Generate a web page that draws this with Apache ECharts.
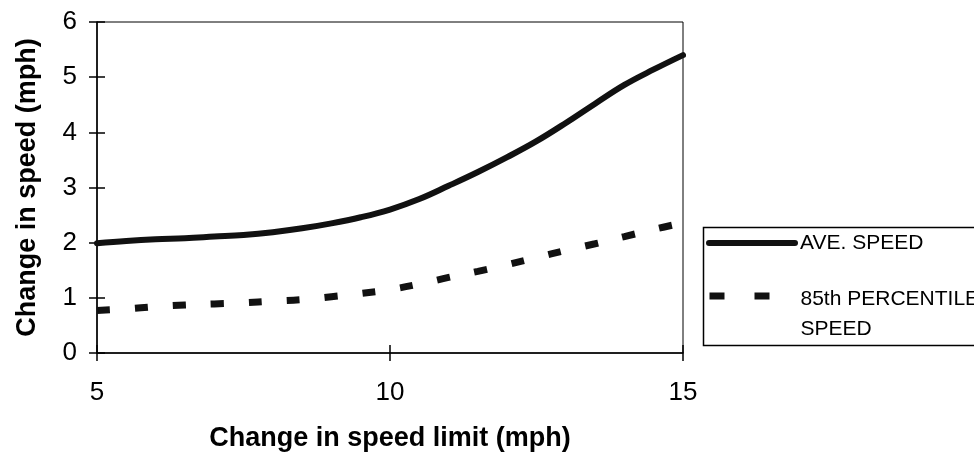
<!DOCTYPE html>
<html>
<head>
<meta charset="utf-8">
<script src="https://cdn.jsdelivr.net/npm/echarts@6/dist/echarts.min.js"></script>
<style>
html,body{margin:0;padding:0;background:#fff;}
#chart{width:974px;height:453px;}
</style>
</head>
<body>
<div id="chart"></div>
<script>
// ---- data ----
const speedLimitChange = [5, 5.5, 6, 6.5, 7, 7.5, 8, 8.5, 9, 9.5, 10, 10.5, 11, 11.5, 12, 12.5, 13, 13.5, 14, 14.5, 15];
const aveSpeed = [1.99, 2.03, 2.06, 2.08, 2.11, 2.14, 2.19, 2.26, 2.35, 2.46, 2.6, 2.79, 3.03, 3.28, 3.55, 3.84, 4.17, 4.52, 4.86, 5.14, 5.4];
const pct85Speed = [0.77, 0.80, 0.84, 0.87, 0.89, 0.91, 0.94, 0.97, 1.02, 1.08, 1.15, 1.25, 1.37, 1.48, 1.6, 1.73, 1.86, 1.98, 2.11, 2.24, 2.36];
const seriesNames = ['AVE. SPEED', '85th PERCENTILE SPEED'];
const legendLabels = ['AVE. SPEED', ['85th PERCENTILE', 'SPEED']];
const xTitle = 'Change in speed limit (mph)';
const yTitle = 'Change in speed (mph)';

const FONT = '"Liberation Sans", Arial, sans-serif';
const chart = echarts.init(document.getElementById('chart'), null, {renderer: 'canvas'});

const gridBox = {left: 97, right: 291, top: 22, bottom: 100, containLabel: false, outerBoundsMode: 'none'};

chart.setOption({
  backgroundColor: '#fff',
  animation: false,
  grid: [
    Object.assign({show: true, borderColor: '#000', borderWidth: 1, backgroundColor: 'transparent'}, gridBox),
    Object.assign({show: false}, gridBox)
  ],
  legend: [
    {
      data: [{name: seriesNames[0], itemStyle: {opacity: 0}, lineStyle: {type: 'solid', width: 6, cap: 'round', color: '#111'}}],
      left: 701, top: 226,
      orient: 'vertical',
      itemWidth: 86, itemHeight: 14,
      formatter: () => legendLabels[0],
      textStyle: {fontFamily: FONT, fontSize: 21, color: '#000', lineHeight: 24}
    },
    {
      data: [{name: seriesNames[1], itemStyle: {opacity: 0}, lineStyle: {type: [15, 30], width: 7, cap: 'butt', color: '#111'}}],
      left: 701, top: 243,
      orient: 'vertical',
      itemWidth: 86, itemHeight: 14,
      formatter: () => '{gap|}\n' + legendLabels[1].join('\n'),
      textStyle: {
        fontFamily: FONT, fontSize: 21, color: '#000', lineHeight: 30,
        rich: {gap: {height: 36, lineHeight: 36, fontSize: 21}}
      }
    }
  ],
  graphic: [
    {type: 'rect', left: 701, top: 225, shape: {width: 320, height: 118}, style: {fill: 'none', stroke: '#000', lineWidth: 1.5}, z: 0}
  ],
  xAxis: [
    {
      type: 'value', gridIndex: 0, min: 5, max: 15, interval: 5,
      name: xTitle, nameLocation: 'middle', nameGap: 72,
      nameTextStyle: {fontFamily: FONT, fontSize: 27, fontWeight: 'bold', color: '#000'},
      axisLine: {show: true, onZero: false, lineStyle: {color: '#000', width: 1.5}},
      axisTick: {show: true, inside: false, length: 8, lineStyle: {color: '#000', width: 1.5}},
      axisLabel: {fontFamily: FONT, fontSize: 26, color: '#000', margin: 27},
      splitLine: {show: false}
    },
    {
      type: 'value', gridIndex: 1, min: 5, max: 15, interval: 5,
      axisLine: {show: false},
      axisTick: {show: true, inside: true, length: 8, lineStyle: {color: '#000', width: 1.5}},
      axisLabel: {show: false},
      splitLine: {show: false}
    }
  ],
  yAxis: [
    {
      type: 'value', gridIndex: 0, min: 0, max: 6, interval: 1,
      name: yTitle, nameLocation: 'middle', nameGap: 56, nameRotate: 90,
      nameTextStyle: {fontFamily: FONT, fontSize: 27, fontWeight: 'bold', color: '#000'},
      axisLine: {show: true, onZero: false, lineStyle: {color: '#000', width: 1.5}},
      axisTick: {show: true, inside: false, length: 8, lineStyle: {color: '#000', width: 1.5}},
      axisLabel: {fontFamily: FONT, fontSize: 26, color: '#000', margin: 20},
      splitLine: {show: false}
    },
    {
      type: 'value', gridIndex: 1, min: 0, max: 6, interval: 1,
      axisLine: {show: false},
      axisTick: {show: true, inside: true, length: 8, lineStyle: {color: '#000', width: 1.5}},
      axisLabel: {show: false},
      splitLine: {show: false}
    }
  ],
  series: [
    {
      name: seriesNames[0], type: 'line', xAxisIndex: 0, yAxisIndex: 0,
      data: speedLimitChange.map((x, i) => [x, aveSpeed[i]]),
      smooth: 0.4, symbol: 'none', showSymbol: false,
      lineStyle: {color: '#111', width: 6, cap: 'round'},
      itemStyle: {color: '#111'}
    },
    {
      name: seriesNames[1], type: 'line', xAxisIndex: 0, yAxisIndex: 0,
      data: speedLimitChange.map((x, i) => [x, pct85Speed[i]]),
      smooth: 0.4, symbol: 'none', showSymbol: false,
      lineStyle: {color: '#111', width: 7, type: [13, 25], cap: 'butt'},
      itemStyle: {color: '#111'}
    }
  ]
});
</script>
</body>
</html>
